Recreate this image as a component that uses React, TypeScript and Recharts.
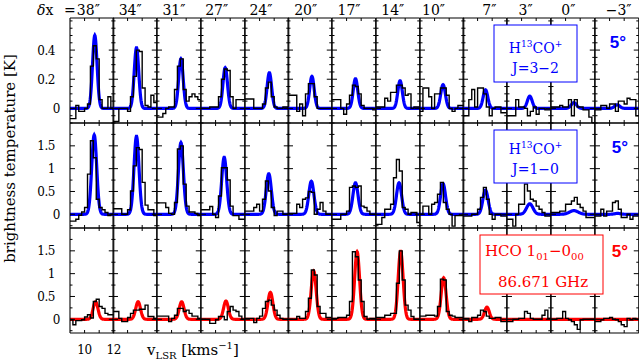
import React from 'react';
import { ComposedChart, Line, XAxis, YAxis } from 'recharts';

// ---------------- data ----------------
const offsetLabels = ['38″', '34″', '31″', '27″', '24″', '20″', '17″', '14″', '10″', '7″', '3″', '0″', '−3″'];
const velocityStart = 9;
const velocityEnd = 12;
const channelWidth = 0.2;
const velocityTicks = [10, 11, 12];
const velocityTickLabels = [10, 12];

// H13CO+ J=3-2 (top row)
const h13coJ32Spectra = [
  [-0.07, -0.07, 0.02, -0.02, -0.02, 0, 0.03, 0.29, 0.43, 0.34, 0.06, 0, 0, 0.08, 0],
  [-0.09, -0.09, 0, 0, 0, -0.02, 0.08, 0.22, 0.4, 0.39, 0.14, 0.02, 0.01, 0.09, 0.04],
  [-0.06, -0.06, -0.035, 0, 0.01, 0.01, 0.13, 0.29, 0.34, 0.13, 0.05, 0.08, 0.1, 0.08, 0.06],
  [0, 0, 0, 0.01, 0.01, 0.01, 0.08, 0.2, 0.27, 0.26, 0.08, 0, 0.06, 0.06, 0.06],
  [0.065, 0.065, 0.065, 0, 0, 0, 0.03, 0.14, 0.18, 0.08, 0.01, 0, 0, 0.01, 0.01],
  [0.09, 0.09, 0.09, -0.02, 0.03, -0.05, 0.1, 0.17, 0.17, 0.08, 0, 0, 0, 0, 0],
  [0.06, 0.06, 0.06, 0, -0.04, 0.03, 0.09, 0.16, 0.15, 0.1, 0.02, 0, 0, 0, -0.01],
  [0.01, 0.01, 0.01, 0.07, 0.05, 0.11, 0.11, 0.16, 0.16, 0.14, 0.09, 0.1, 0, 0.01, 0.01],
  [-0.02, 0.14, 0.14, 0.08, 0, 0.1, 0.1, 0.14, 0.14, 0.09, 0, -0.02, 0, 0.02, 0.02],
  [-0.05, -0.05, 0.06, 0.13, 0.01, 0.14, 0.14, 0.1, 0.01, -0.05, 0, 0.01, 0.01, -0.03, -0.03],
  [-0.05, -0.05, -0.05, 0.06, 0.01, 0.01, 0, -0.05, -0.02, 0.01, -0.04, 0, 0, -0.01, -0.01],
  [0.01, 0.01, 0.01, 0.02, 0.01, 0.01, 0.06, -0.05, 0.06, 0.01, 0.01, -0.01, -0.01, -0.06, -0.1],
  [-0.01, -0.01, 0.02, 0.02, 0, 0.03, 0.03, -0.02, 0.05, 0.05, 0.03, 0.07, 0.06, 0.06, -0.05],
];
const h13coJ32FitPeak = [0.5, 0.416, 0.34, 0.28, 0.245, 0.22, 0.204, 0.19, 0.163, 0.128, 0.084, 0.04, 0.025];
const h13coJ32FitCenter = [10.7, 10.61, 10.64, 10.66, 10.67, 10.64, 10.61, 10.65, 10.58, 10.54, 10.56, 10.57, 10.52];
const h13coJ32FitSigma = [0.155, 0.155, 0.155, 0.155, 0.155, 0.155, 0.155, 0.155, 0.16, 0.16, 0.165, 0.18, 0.18];
const h13coJ32Domain = [-0.1, 0.62];
const h13coJ32Ticks = [-0.1, -0.05, 0, 0.05, 0.1, 0.15, 0.2, 0.25, 0.3, 0.35, 0.4, 0.45, 0.5, 0.55, 0.6];
const h13coJ32TickLabels = [0, 0.2, 0.4];

// H13CO+ J=1-0 (middle row)
const h13coJ10Spectra = [
  [-0.15, -0.15, -0.11, -0.02, 0.05, 0.15, 0.88, 1.61, 1.24, 0.33, 0.15, 0.1, 0.04, -0.03, 0],
  [0.12, 0.12, 0.12, 0, 0, 0.1, 0.51, 1.06, 1.46, 1.42, 0.7, 0.2, 0.1, 0.1, -0.03],
  [0.25, 0.25, 0.25, 0.15, 0.02, 0, 0.26, 1.43, 1.5, 0.66, 0.18, 0.05, 0.05, 0.02, -0.03],
  [0.1, 0.1, 0.1, 0.17, 0, -0.07, 0.4, 1.02, 1.02, 0.75, 0.18, -0.03, -0.03, -0.11, -0.11],
  [0.07, 0.07, 0.07, 0.15, 0.22, 0.07, 0.33, 0.73, 0.51, 0.15, -0.03, 0.07, 0.07, 0, 0],
  [0.02, 0.02, 0.02, 0.22, 0.15, 0.33, 0.36, 0.5, 0.48, 0, 0.11, 0.26, 0.07, 0, 0],
  [-0.11, -0.11, -0.11, 0, 0, 0.07, 0.59, 0.62, 0.59, 0.62, 0.18, 0.15, 0.07, 0, 0],
  [-0.22, -0.22, -0.07, 0.11, 0.11, 0.22, 0.8, 1.2, 0.95, 0.15, 0.11, 0, 0.04, 0.04, -0.18],
  [0, 0.18, 0.18, 0, 0.22, 0.26, 0.44, 0.7, 0.26, 0.11, 0, -0.26, -0.03, -0.03, -0.03],
  [-0.04, -0.04, -0.04, 0, 0, 0.11, 0.37, 0.59, 0.33, 0, -0.11, 0, 0, -0.04, -0.04],
  [-0.11, -0.11, -0.26, 0, 0.22, 0.22, 0.66, 0.51, 0.33, 0.29, 0.18, 0.11, 0.04, -0.04, -0.04],
  [0.04, 0.04, 0.04, 0.07, 0.07, 0.22, 0.22, 0.29, 0.37, 0.22, 0.15, 0.07, -0.07, -0.07, -0.07],
  [-0.04, -0.04, 0.11, -0.04, 0.07, 0.07, 0.26, 0.29, 0.11, -0.07, -0.07, 0, -0.11, -0.04, -0.04],
];
const h13coJ10FitPeak = [1.74, 1.71, 1.57, 1.25, 0.89, 0.725, 0.69, 0.69, 0.67, 0.53, 0.23, 0.08, 0.02];
const h13coJ10FitCenter = [10.66, 10.61, 10.64, 10.59, 10.63, 10.6, 10.61, 10.58, 10.58, 10.54, 10.56, 10.57, 10.55];
const h13coJ10FitSigma = [0.17, 0.17, 0.17, 0.17, 0.175, 0.175, 0.175, 0.175, 0.17, 0.18, 0.22, 0.3, 0.2];
const h13coJ10Domain = [-0.3, 2.0];
const h13coJ10Ticks = [-0.25, 0, 0.25, 0.5, 0.75, 1, 1.25, 1.5, 1.75];
const h13coJ10TickLabels = [0, 0.5, 1, 1.5];

// HCO 1_01-0_00 (bottom row)
const hcoSpectra = [
  [-0.01, -0.12, -0.03, -0.03, -0.01, 0.05, 0.1, 0.03, 0.39, 0.44, 0.28, 0.24, 0.13, 0.1, 0.1],
  [0.17, 0.17, 0.02, -0.05, -0.05, 0.04, 0.13, 0.2, 0.2, 0.22, 0.22, 0.31, 0.06, 0.06, 0.02],
  [0.07, 0.07, 0.07, 0.07, -0.05, 0.02, 0.09, 0.24, 0.24, 0.17, 0.2, 0.13, 0.07, 0.07, 0.02],
  [0, 0, 0, -0.09, -0.09, -0.01, 0.06, 0.06, -0.01, 0.17, 0.28, 0.2, 0.17, 0.07, 0],
  [0.02, 0.02, 0.02, -0.07, 0.02, 0.07, 0.24, 0.39, 0.42, 0.31, 0.2, 0.09, 0.02, 0, 0],
  [0, 0, 0, 0.06, 0.02, 0.02, 0.17, 0.46, 1.08, 0.97, 0.28, 0.13, 0.13, 0.04, 0.04],
  [0.02, 0.02, 0.04, 0.04, 0.04, 0.09, 0.39, 1.48, 1.37, 0.86, 0.39, 0.06, 0, 0.02, 0.02],
  [0.04, 0.04, 0.04, 0.09, 0.09, 0.13, 0.13, 0.79, 1.5, 0.86, 0.31, 0.2, 0.06, 0, 0],
  [0.07, 0.07, 0.09, 0.09, 0.09, 0.07, 0.28, 0.88, 0.86, 0.17, 0.09, 0.07, 0.04, 0.04, 0.04],
  [0.02, 0.02, -0.05, 0.04, 0.04, 0.09, 0.2, 0.17, 0.07, 0.02, 0.02, 0.04, 0.04, -0.05, -0.05],
  [-0.05, -0.05, 0, 0, 0.02, 0.02, 0.17, 0.13, 0.02, 0, 0, 0, 0.09, 0.2, 0.02],
  [0, 0, 0.02, 0.02, 0.17, 0.02, -0.01, -0.05, -0.12, -0.22, -0.01, 0, 0, 0, 0],
  [-0.05, -0.05, -0.01, 0.02, 0.02, 0.04, 0, -0.01, -0.05, -0.12, -0.16, 0.02, -0.01, 0.02, 0],
];
const hcoFitPeak = [0.385, 0.385, 0.385, 0.4, 0.59, 1.06, 1.48, 1.49, 0.91, 0.265, 0, 0, 0];
const hcoFitCenter = [10.75, 10.72, 10.69, 10.71, 10.74, 10.76, 10.72, 10.69, 10.62, 10.64, 10.6, 10.6, 10.6];
const hcoFitSigma = [0.165, 0.165, 0.165, 0.165, 0.17, 0.17, 0.17, 0.17, 0.17, 0.165, 0.17, 0.17, 0.17];
const hcoDomain = [-0.3, 2.0];
const hcoTicks = [-0.25, 0, 0.25, 0.5, 0.75, 1, 1.25, 1.5, 1.75];
const hcoTickLabels = [0, 0.5, 1, 1.5];

// ---------------- layout / style ----------------
const PLOT_LEFT = 69.5;
const PLOT_RIGHT = 638.5;
const N_PANELS = offsetLabels.length;
const PANEL_W = (PLOT_RIGHT - PLOT_LEFT) / N_PANELS;
const ROW_TOPS = [18.3, 123.3, 228.3];
const ROW_H = 105;
const BLUE = '#0000ff';
const RED = '#ff0000';
const SERIF = '"DejaVu Serif", serif';
const TICK_SERIF = '"DejaVu Serif", serif';
const offsetLabelNudge = [-3, -5, -5, -6, -5.5, -4.5, -5, -5, -8, 4, -3.5, -4.5, 2];
const FIT_STEP = 0.02;

const rows = [
  { spectra: h13coJ32Spectra, peak: h13coJ32FitPeak, center: h13coJ32FitCenter, sigma: h13coJ32FitSigma, domain: h13coJ32Domain, ticks: h13coJ32Ticks, labels: h13coJ32TickLabels, color: BLUE },
  { spectra: h13coJ10Spectra, peak: h13coJ10FitPeak, center: h13coJ10FitCenter, sigma: h13coJ10FitSigma, domain: h13coJ10Domain, ticks: h13coJ10Ticks, labels: h13coJ10TickLabels, color: BLUE },
  { spectra: hcoSpectra, peak: hcoFitPeak, center: hcoFitCenter, sigma: hcoFitSigma, domain: hcoDomain, ticks: hcoTicks, labels: hcoTickLabels, color: RED },
];

const near = (a: number, b: number) => Math.abs(a - b) < 1e-6;

function makeYTick(side: 'left' | 'right', labels: number[], showLabels: boolean) {
  return (props: any) => {
    const { x, y, payload } = props;
    const v = payload.value;
    const major = labels.some((m) => near(m, v));
    const len = major ? 5 : 2.5;
    const dx = side === 'left' ? len : -len;
    return (
      <g>
        <line x1={x} y1={y} x2={x + dx} y2={y} stroke="#000" strokeWidth={1} />
        {showLabels && major ? (
          <text x={x - 15 + (v === 0 ? 5 : 0)} y={y} dy="0.37em" textAnchor="end" fontFamily={TICK_SERIF} fontSize={12} letterSpacing={-0.4} fill="#000">
            {String(v)}
          </text>
        ) : null}
      </g>
    );
  };
}

function makeXTick(side: 'top' | 'bottom', showLabels: boolean) {
  return (props: any) => {
    const { x, y, payload } = props;
    const v = payload.value;
    const drawLine = v > velocityStart && v < velocityEnd;
    const dy = side === 'bottom' ? -3 : 3;
    const labelled = showLabels && velocityTickLabels.some((m) => near(m, v));
    return (
      <g>
        {drawLine ? <line x1={x} y1={y} x2={x} y2={y + dy} stroke="#000" strokeWidth={1} /> : null}
        {labelled ? (
          <text x={x} y={y + 21.5} textAnchor="middle" fontFamily={TICK_SERIF} fontSize={12} letterSpacing={-0.4} fill="#000">
            {String(v)}
          </text>
        ) : null}
      </g>
    );
  };
}

const axisLine = { stroke: '#000', strokeWidth: 1.1 };

function Panel({ rowIdx, col }: { rowIdx: number; col: number }) {
  const row = rows[rowIdx];
  const spec = row.spectra[col];
  const stepData = spec.map((t, i) => ({ v: velocityStart + i * channelWidth, t }));
  stepData.push({ v: velocityStart + spec.length * channelWidth, t: spec[spec.length - 1] });
  const nFit = Math.round((velocityEnd - velocityStart) / FIT_STEP) + 1;
  const A = row.peak[col];
  const c = row.center[col];
  const s = row.sigma[col];
  const fitData = Array.from({ length: nFit }, (_, k) => {
    const v = velocityStart + k * FIT_STEP;
    return { v, f: A * Math.exp(-((v - c) * (v - c)) / (2 * s * s)) };
  });
  const firstCol = col === 0;
  const bottomRow = rowIdx === rows.length - 1;
  return (
    <ComposedChart width={PANEL_W} height={ROW_H} margin={{ top: 0, right: 0, bottom: 0, left: 0 }}>
      <XAxis
        xAxisId="b"
        dataKey="v"
        type="number"
        orientation="bottom"
        mirror
        height={20}
        domain={[velocityStart, velocityEnd]}
        allowDataOverflow
        ticks={velocityTicks}
        interval={0}
        tickSize={0}
        tickMargin={0}
        tickLine={false}
        axisLine={axisLine}
        tick={makeXTick('bottom', firstCol && bottomRow)}
      />
      <XAxis
        xAxisId="t"
        dataKey="v"
        type="number"
        orientation="top"
        mirror
        height={20}
        domain={[velocityStart, velocityEnd]}
        allowDataOverflow
        ticks={velocityTicks}
        interval={0}
        tickSize={0}
        tickMargin={0}
        tickLine={false}
        axisLine={axisLine}
        tick={makeXTick('top', false)}
      />
      <YAxis
        yAxisId="l"
        type="number"
        orientation="left"
        mirror
        width={20}
        domain={row.domain}
        allowDataOverflow
        ticks={row.ticks}
        interval={0}
        tickSize={0}
        tickMargin={0}
        tickLine={false}
        axisLine={axisLine}
        tick={makeYTick('left', row.labels, firstCol)}
      />
      <YAxis
        yAxisId="r"
        type="number"
        orientation="right"
        mirror
        width={20}
        domain={row.domain}
        allowDataOverflow
        ticks={row.ticks}
        interval={0}
        tickSize={0}
        tickMargin={0}
        tickLine={false}
        axisLine={axisLine}
        tick={makeYTick('right', row.labels, false)}
      />
      <Line
        xAxisId="b"
        yAxisId="l"
        data={fitData}
        dataKey="f"
        type="linear"
        stroke={row.color}
        strokeWidth={3.2}
        dot={false}
        activeDot={false}
        isAnimationActive={false}
      />
      <Line
        xAxisId="b"
        yAxisId="l"
        data={stepData}
        dataKey="t"
        type="stepAfter"
        stroke="#000"
        strokeWidth={1.4}
        dot={false}
        activeDot={false}
        isAnimationActive={false}
      />
    </ComposedChart>
  );
}

function Overlay() {
  const panelCenter = (i: number) => PLOT_LEFT + PANEL_W * (i + 0.5);
  return (
    <svg width={639} height={362} style={{ position: 'absolute', left: 0, top: 0, pointerEvents: 'none', overflow: 'visible' }}>
      <text x={37} y={15} fontFamily={SERIF} fontSize={14} fill="#000">
        <tspan fontStyle="italic">δ</tspan>x
      </text>
      <text x={64} y={15} fontFamily={SERIF} fontSize={14} fill="#000">=</text>
      {offsetLabels.map((lab, i) => (
        <text key={i} x={panelCenter(i) + offsetLabelNudge[i]} y={15} textAnchor="middle" fontFamily={SERIF} fontSize={14} fill="#000">
          {lab}
        </text>
      ))}
      <text transform="translate(15,158.5) rotate(-90)" textAnchor="middle" fontFamily={SERIF} fontSize={15} fill="#000">
        brightness temperature [K]
      </text>
      <text x={147} y={355} fontFamily={SERIF} fontSize={15} fill="#000">
        v<tspan fontSize={10} dy={4}>LSR</tspan>
        <tspan dy={-4}> [kms</tspan>
        <tspan fontSize={10} dy={-6}>−1</tspan>
        <tspan dy={6}>]</tspan>
      </text>
      <rect x={494} y={25} width={83} height={57} fill="#fff" stroke={BLUE} strokeWidth={1} />
      <text x={535.5} y={53} textAnchor="middle" fontFamily={SERIF} fontSize={14} fill={BLUE}>
        H<tspan fontSize={9} dy={-6}>13</tspan>
        <tspan dy={6}>CO</tspan>
        <tspan fontSize={9} dy={-6}>+</tspan>
      </text>
      <text x={535.5} y={73} textAnchor="middle" fontFamily={SERIF} fontSize={14} fill={BLUE}>J=3−2</text>
      <text x={618} y={48} textAnchor="middle" fontFamily='"Liberation Sans", Arial, sans-serif' fontWeight="bold" fontSize={17} fill={BLUE}>5°</text>
      <rect x={494} y={130} width={83} height={53} fill="#fff" stroke={BLUE} strokeWidth={1} />
      <text x={535.5} y={154} textAnchor="middle" fontFamily={SERIF} fontSize={14} fill={BLUE}>
        H<tspan fontSize={9} dy={-6}>13</tspan>
        <tspan dy={6}>CO</tspan>
        <tspan fontSize={9} dy={-6}>+</tspan>
      </text>
      <text x={535.5} y={174} textAnchor="middle" fontFamily={SERIF} fontSize={14} fill={BLUE}>J=1−0</text>
      <text x={620} y={153} textAnchor="middle" fontFamily='"Liberation Sans", Arial, sans-serif' fontWeight="bold" fontSize={17} fill={BLUE}>5°</text>
      <rect x={480} y={235} width={123} height={59} fill="#fff" stroke={RED} strokeWidth={1} />
      <text x={485} y={256} fontFamily={SERIF} fontSize={15} fill={RED}>
        HCO 1<tspan fontSize={10} dy={4}>01</tspan>
        <tspan dy={-4}>−0</tspan>
        <tspan fontSize={10} dy={4}>00</tspan>
      </text>
      <text x={543} y={287} textAnchor="middle" fontFamily={SERIF} fontSize={15} fill={RED}>86.671 GHz</text>
      <text x={620} y={257} textAnchor="middle" fontFamily='"Liberation Sans", Arial, sans-serif' fontWeight="bold" fontSize={17} fill={RED}>5°</text>
    </svg>
  );
}

export default function App() {
  return (
    <div style={{ position: 'absolute', left: 0, top: 0, width: 639, height: 362, background: '#fff', overflow: 'hidden' }}>
      <style>{`.recharts-surface{overflow:visible}.recharts-wrapper{overflow:visible}`}</style>
      {rows.map((_, r) =>
        offsetLabels.map((__, c) => (
          <div key={`${r}-${c}`} style={{ position: 'absolute', left: PLOT_LEFT + c * PANEL_W, top: ROW_TOPS[r], width: PANEL_W, height: ROW_H }}>
            <Panel rowIdx={r} col={c} />
          </div>
        ))
      )}
      <Overlay />
    </div>
  );
}
